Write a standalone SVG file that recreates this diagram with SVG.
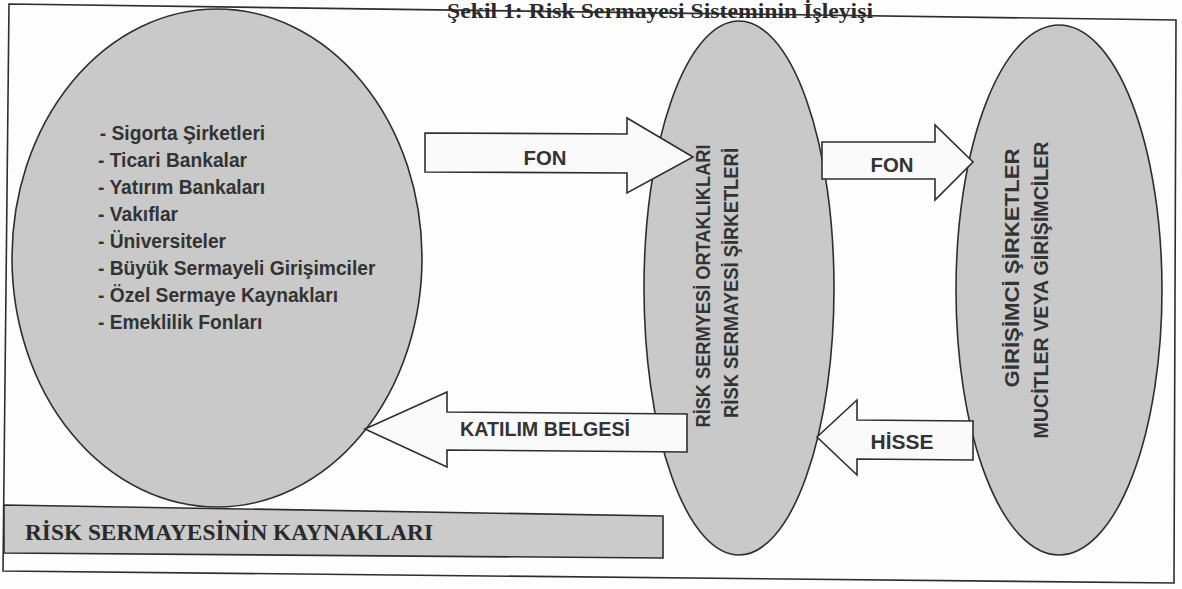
<svg xmlns="http://www.w3.org/2000/svg" width="1182" height="589" viewBox="0 0 1182 589">
<style>
.shape{fill:#c9c9c9;stroke:#2e2e2e;stroke-width:1.6}
.arrow{fill:#fafafa;stroke:#2e2e2e;stroke-width:1.6;stroke-linejoin:miter}
.sans{font-family:"Liberation Sans",Arial,sans-serif;font-weight:bold;fill:#333}
.lbl{font-size:20px;text-anchor:middle}
.list{font-size:21px}
.vert{font-size:21px;text-anchor:middle}
.serif{font-family:"Liberation Serif","Times New Roman",serif;font-weight:bold;fill:#2a2a2a}
</style>
<rect x="0" y="0" width="1182" height="589" fill="#fdfdfd"/>
<g id="frame">
<polygon points="9,4 1176,20 1174,583 3,571" fill="none" stroke="#2e2e2e" stroke-width="1.6"/>
</g>
<text id="title" class="serif" x="660" y="18" font-size="22" text-anchor="middle" textLength="426" lengthAdjust="spacingAndGlyphs">Şekil 1: Risk Sermayesi Sisteminin İşleyişi</text>
<g id="sources">
<ellipse class="shape" cx="217" cy="258" rx="205" ry="249"/>
<g transform="translate(98,0) scale(0.915,1)">
<text class="sans list" x="2" y="140">- Sigorta Şirketleri</text>
<text class="sans list" x="0" y="167">- Ticari Bankalar</text>
<text class="sans list" x="0" y="194">- Yatırım Bankaları</text>
<text class="sans list" x="0" y="221">- Vakıflar</text>
<text class="sans list" x="0" y="248">- Üniversiteler</text>
<text class="sans list" x="0" y="275">- Büyük Sermayeli Girişimciler</text>
<text class="sans list" x="0" y="302">- Özel Sermaye Kaynakları</text>
<text class="sans list" x="0" y="329">- Emeklilik Fonları</text>
</g>
</g>
<g id="sources-label">
<polygon points="4,505 663,516 663,558 4,553" fill="#cbcbcb" stroke="#2e2e2e" stroke-width="1.6"/>
<text class="serif" x="25" y="540" font-size="24" textLength="408" lengthAdjust="spacingAndGlyphs">RİSK SERMAYESİNİN KAYNAKLARI</text>
</g>
<g id="vc-firms">
<ellipse class="shape" cx="739" cy="288" rx="95" ry="267"/>
<text class="sans vert" transform="translate(710,286) rotate(-90)" textLength="283" lengthAdjust="spacingAndGlyphs">RİSK SERMYESİ ORTAKLIKLARI</text>
<text class="sans vert" transform="translate(738,283) rotate(-90)" textLength="270" lengthAdjust="spacingAndGlyphs">RİSK SERMAYESİ ŞİRKETLERİ</text>
</g>
<g id="entrepreneurs">
<ellipse class="shape" cx="1059" cy="290" rx="103" ry="265"/>
<text class="sans vert" transform="translate(1019,268) rotate(-90)" textLength="239" lengthAdjust="spacingAndGlyphs">GİRİŞİMCİ ŞİRKETLER</text>
<text class="sans vert" transform="translate(1048,290) rotate(-90)" textLength="297" lengthAdjust="spacingAndGlyphs">MUCİTLER VEYA GİRİŞİMCİLER</text>
</g>
<g id="connectors">
<g id="fon1">
<polygon class="arrow" points="425,133 627,134 627,118 693,157 627,193 627,173 425,172"/>
<text class="sans lbl" x="545" y="165" textLength="43" lengthAdjust="spacingAndGlyphs">FON</text>
</g>
<g id="fon2">
<polygon class="arrow" points="822,142 935,142 935,125 973,162 935,200 935,179 822,179"/>
<text class="sans lbl" x="892" y="172" textLength="43" lengthAdjust="spacingAndGlyphs">FON</text>
</g>
<g id="katilim">
<polygon class="arrow" points="365,429 447,392 447,412 687,414 687,452 447,450 447,467"/>
<text class="sans lbl" x="545" y="436" textLength="170" lengthAdjust="spacingAndGlyphs">KATILIM BELGESİ</text>
</g>
<g id="hisse">
<polygon class="arrow" points="817,437 857,400 857,420 973,421 973,460 857,459 857,475"/>
<text class="sans lbl" x="902" y="449" textLength="63" lengthAdjust="spacingAndGlyphs">HİSSE</text>
</g>
</g>
</svg>
